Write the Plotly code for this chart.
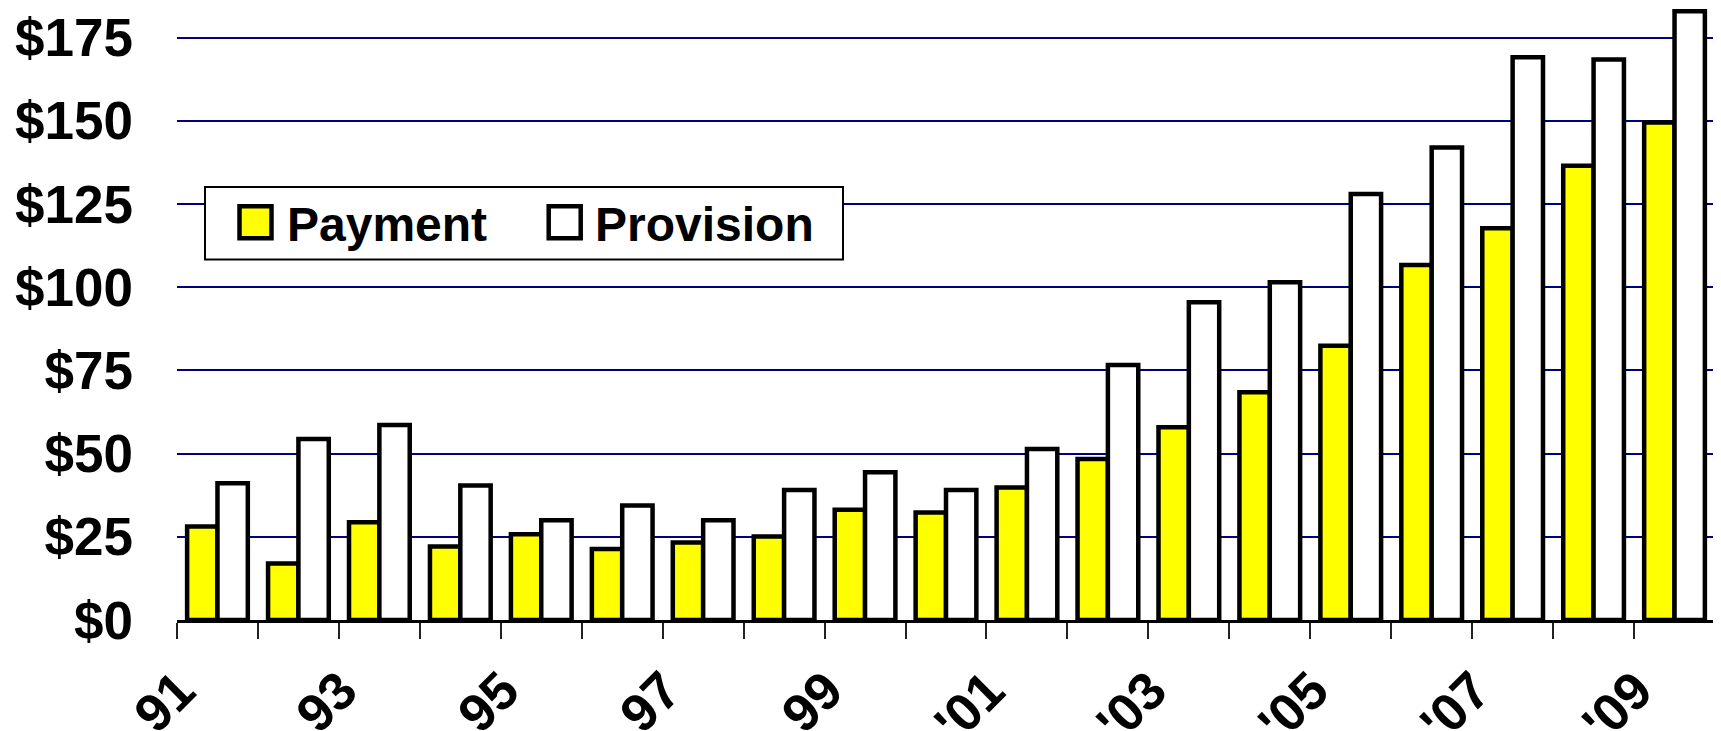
import plotly.graph_objects as go

# ---- data ----
years = ["91", "92", "93", "94", "95", "96", "97", "98", "99", "00",
         "01", "02", "03", "04", "05", "06", "07", "08", "09"]
tick_labels = ["91", "", "93", "", "95", "", "97", "", "99", "",
               "'01", "", "'03", "", "'05", "", "'07", "", "'09"]
payment = [28.1, 17.0, 29.4, 22.1, 25.8, 21.3, 23.3, 25.1, 33.1, 32.3,
           39.8, 48.4, 57.9, 68.4, 82.4, 106.7, 117.7, 136.5, 149.5]
provision = [41.1, 54.4, 58.6, 40.4, 30.0, 34.4, 30.0, 39.1, 44.4, 39.1,
             51.4, 76.6, 95.5, 101.5, 128.0, 142.0, 169.1, 168.4, 182.9]
y_ticks = [0, 25, 50, 75, 100, 125, 150, 175]
y_tick_labels = ["$0", "$25", "$50", "$75", "$100", "$125", "$150", "$175"]
series_names = ["Payment", "Provision"]

# ---- layout constants ----
W, H = 1721, 731
OFF = 8  # default page body margin offsets the figure by 8px
L, R, T, B = 169, 14, 0, 119
PW, PH = W - L - R, H - T - B
FONT = "Liberation Sans, Arial, sans-serif"
Y_TOP = 183.9


def px_x(x):
    return (x - OFF - L) / PW


def px_y(y):
    return 1 - (y - OFF - T) / PH


fig = go.Figure()
fig.add_trace(go.Bar(x=years, y=payment, name=series_names[0],
                     marker=dict(color="#FFFF00", line=dict(color="black", width=4.5))))
fig.add_trace(go.Bar(x=years, y=provision, name=series_names[1],
                     marker=dict(color="white", line=dict(color="black", width=4.5))))

shapes = []
annotations = []
# legend box
shapes.append(dict(type="rect", xref="paper", yref="paper",
                   x0=px_x(205), x1=px_x(843), y0=px_y(259.5), y1=px_y(187),
                   fillcolor="white", line=dict(color="black", width=2), layer="above"))
legend_items = [(series_names[0], "#FFFF00", 255.5, 288), (series_names[1], "white", 564.7, 596)]
for name, col, cx, tx in legend_items:
    s = 16
    shapes.append(dict(type="rect", xref="paper", yref="paper",
                       x0=px_x(cx - s), x1=px_x(cx + s), y0=px_y(222.3 + s), y1=px_y(222.3 - s),
                       fillcolor=col, line=dict(color="black", width=4.5), layer="above"))
    annotations.append(dict(text=name, xref="paper", yref="paper", x=px_x(tx - 3), y=px_y(224),
                            xanchor="left", yanchor="middle", showarrow=False,
                            font=dict(family=FONT, size=48, color="black", weight="bold")))

fig.update_layout(
    width=W, height=H,
    margin=dict(l=L, r=R, t=T, b=B, pad=0),
    paper_bgcolor="white", plot_bgcolor="white",
    barmode="group", bargap=0.25, bargroupgap=0,
    showlegend=False,
    shapes=shapes, annotations=annotations,
    font=dict(family=FONT, color="black"),
)
fig.update_xaxes(
    type="category", tickmode="array", tickvals=years, ticktext=tick_labels,
    tickson="boundaries", ticks="outside", ticklen=16, tickwidth=2, tickcolor="#222222",
    showline=True, linecolor="black", linewidth=3, showgrid=False,
    tickangle=-45, tickfont=dict(family=FONT, size=53, color="black", weight="bold"),
    ticklabelshift=-38, ticklabelstandoff=15,
    range=[-0.5, len(years) - 0.5], automargin=False,
)
fig.update_yaxes(
    range=[0, Y_TOP], tickmode="array", tickvals=y_ticks, ticktext=y_tick_labels,
    showgrid=True, gridcolor="#000080", gridwidth=2, zeroline=False, showline=False,
    ticks="", ticklabelstandoff=43, automargin=False,
    tickfont=dict(family=FONT, size=53, color="black", weight="bold"),
)

fig.write_html("out.html")
